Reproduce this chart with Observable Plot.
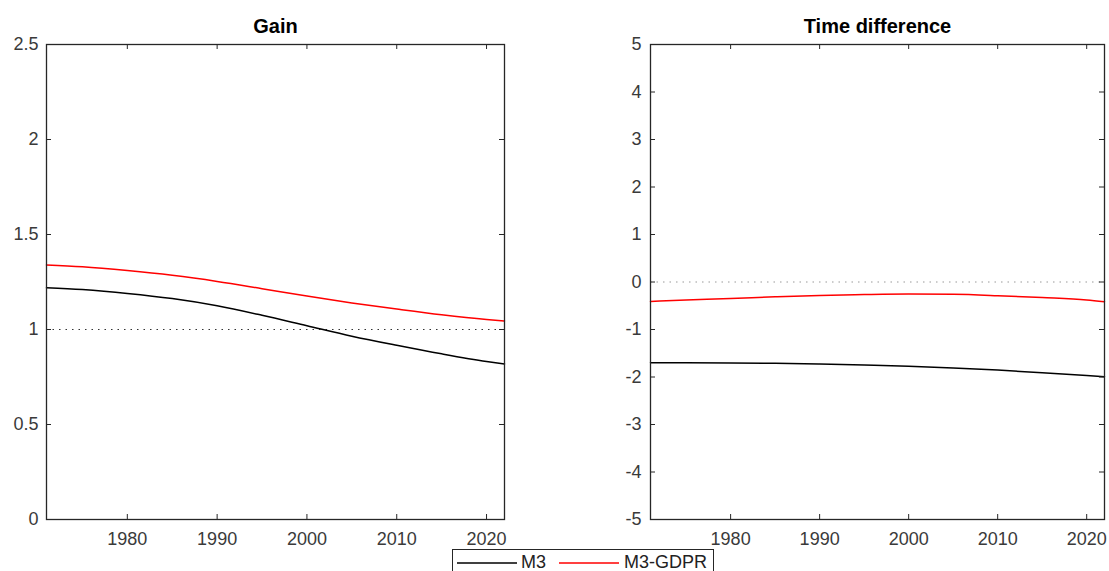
<!DOCTYPE html>
<html>
<head>
<meta charset="utf-8">
<script src="https://cdn.jsdelivr.net/npm/d3@7"></script>
<script src="https://cdn.jsdelivr.net/npm/@observablehq/plot@0.6"></script>
<style>
  html, body { margin: 0; padding: 0; background: #fff; overflow: hidden; }
  #wrap { position: relative; width: 1109px; height: 571px; overflow: hidden; font-family: "Liberation Sans", Arial, sans-serif; }
  #left, #right { position: absolute; top: 0; }
  #left { left: 0; }
  #right { left: 555px; }
  #legend { position: absolute; left: 452px; top: 549px; width: 262px; height: 30px; border: 1px solid #262626; background: #fff; box-sizing: border-box; }
</style>
</head>
<body>
<div id="wrap">
  <div id="left"></div>
  <div id="right"></div>
  <div id="legend"></div>
</div>
<script>
// ---- data ----
const seriesNames = ["M3", "M3-GDPR"];
const seriesColors = ["#000000", "#ff0000"];

const gainYears = [1971, 1975, 1980, 1985, 1990, 1995, 2000, 2005, 2010, 2015, 2020, 2022];
const gainM3     = [1.220, 1.210, 1.190, 1.163, 1.125, 1.075, 1.020, 0.965, 0.917, 0.872, 0.832, 0.819];
const gainM3GDPR = [1.340, 1.330, 1.310, 1.285, 1.253, 1.215, 1.176, 1.140, 1.108, 1.078, 1.053, 1.045];

const tdYears = [1971, 1975, 1980, 1985, 1990, 1995, 2000, 2005, 2010, 2015, 2020, 2022];
const tdM3     = [-1.700, -1.702, -1.705, -1.710, -1.725, -1.748, -1.775, -1.810, -1.855, -1.908, -1.968, -1.995];
const tdM3GDPR = [-0.410, -0.380, -0.348, -0.312, -0.282, -0.265, -0.255, -0.260, -0.288, -0.328, -0.378, -0.415];

const xTicks = [1980, 1990, 2000, 2010, 2020];
const gainTicks = [0, 0.5, 1, 1.5, 2, 2.5];
const tdTicks = [-5, -4, -3, -2, -1, 0, 1, 2, 3, 4, 5];

const titles = ["Gain", "Time difference"];

// ---- build tables ----
const toRows = (years, vals) => years.map((y, i) => ({year: y, value: vals[i]}));
const gainRows = [toRows(gainYears, gainM3), toRows(gainYears, gainM3GDPR)];
const tdRows = [toRows(tdYears, tdM3), toRows(tdYears, tdM3GDPR)];

const font = "'Liberation Sans', Arial, sans-serif";
const H = 571, mTop = 44, mBottom = 52;
const frameH = H - mTop - mBottom;

function panel({width, marginLeft, marginRight, yDomain, yTicks, rows, title, refY, refColor, tickPad}) {
  const frameW = width - marginLeft - marginRight;
  return Plot.plot({
    width, height: H, marginLeft, marginRight, marginTop: mTop, marginBottom: mBottom,
    style: {fontFamily: font, fontSize: "18px", color: "#333", background: "transparent", overflow: "visible"},
    x: {domain: [1971, 2022]},
    y: {domain: yDomain},
    marks: [
      Plot.ruleY([refY], {stroke: refColor, strokeWidth: 1.2, strokeDasharray: "1.5,5"}),
      Plot.line(rows[0], {x: "year", y: "value", stroke: seriesColors[0], strokeWidth: 1.5, curve: "monotone-x"}),
      Plot.line(rows[1], {x: "year", y: "value", stroke: seriesColors[1], strokeWidth: 1.5, curve: "monotone-x"}),
      Plot.frame({stroke: "#262626", strokeWidth: 1.3}),
      Plot.tickX(xTicks, {x: d => d, stroke: "#262626", insetTop: frameH - 5}),
      Plot.tickX(xTicks, {x: d => d, stroke: "#262626", insetBottom: frameH - 5}),
      Plot.tickY(yTicks, {y: d => d, stroke: "#262626", insetRight: frameW - 5}),
      Plot.tickY(yTicks, {y: d => d, stroke: "#262626", insetLeft: frameW - 5}),
      Plot.axisX({ticks: xTicks, tickSize: 0, tickPadding: 13, label: null, tickFormat: d => String(d), fill: "#3a3a3a"}),
      Plot.axisY({ticks: yTicks, tickSize: 0, tickPadding: tickPad, label: null, tickFormat: d => String(d), fill: "#3a3a3a"}),
      Plot.text([title], {frameAnchor: "top", lineAnchor: "middle", dy: -18, fontWeight: "bold", fontSize: 20, fill: "#000"})
    ]
  });
}

document.getElementById("left").appendChild(panel({
  width: 555, marginLeft: 46, marginRight: 51, yDomain: [0, 2.5], yTicks: gainTicks,
  rows: gainRows, title: titles[0], refY: 1, refColor: "#333", tickPad: 8
}));
document.getElementById("right").appendChild(panel({
  width: 554, marginLeft: 95, marginRight: 5, yDomain: [-5, 5], yTicks: tdTicks,
  rows: tdRows, title: titles[1], refY: 0, refColor: "#999", tickPad: 9
}));

// ---- legend ----
const ns = "http://www.w3.org/2000/svg";
const lg = document.createElementNS(ns, "svg");
lg.setAttribute("width", 262); lg.setAttribute("height", 30);
lg.style.fontFamily = font; lg.style.fontSize = "18px";
const items = [{x0: 4, x1: 64, tx: 68}, {x0: 106, x1: 166, tx: 171}];
items.forEach((it, i) => {
  const l = document.createElementNS(ns, "line");
  l.setAttribute("x1", it.x0); l.setAttribute("x2", it.x1);
  l.setAttribute("y1", 13); l.setAttribute("y2", 13);
  l.setAttribute("stroke", seriesColors[i]); l.setAttribute("stroke-width", 1.5);
  lg.appendChild(l);
  const t = document.createElementNS(ns, "text");
  t.setAttribute("x", it.tx); t.setAttribute("y", 18);
  t.setAttribute("fill", "#222");
  t.textContent = seriesNames[i];
  lg.appendChild(t);
});
document.getElementById("legend").appendChild(lg);
</script>
</body>
</html>
